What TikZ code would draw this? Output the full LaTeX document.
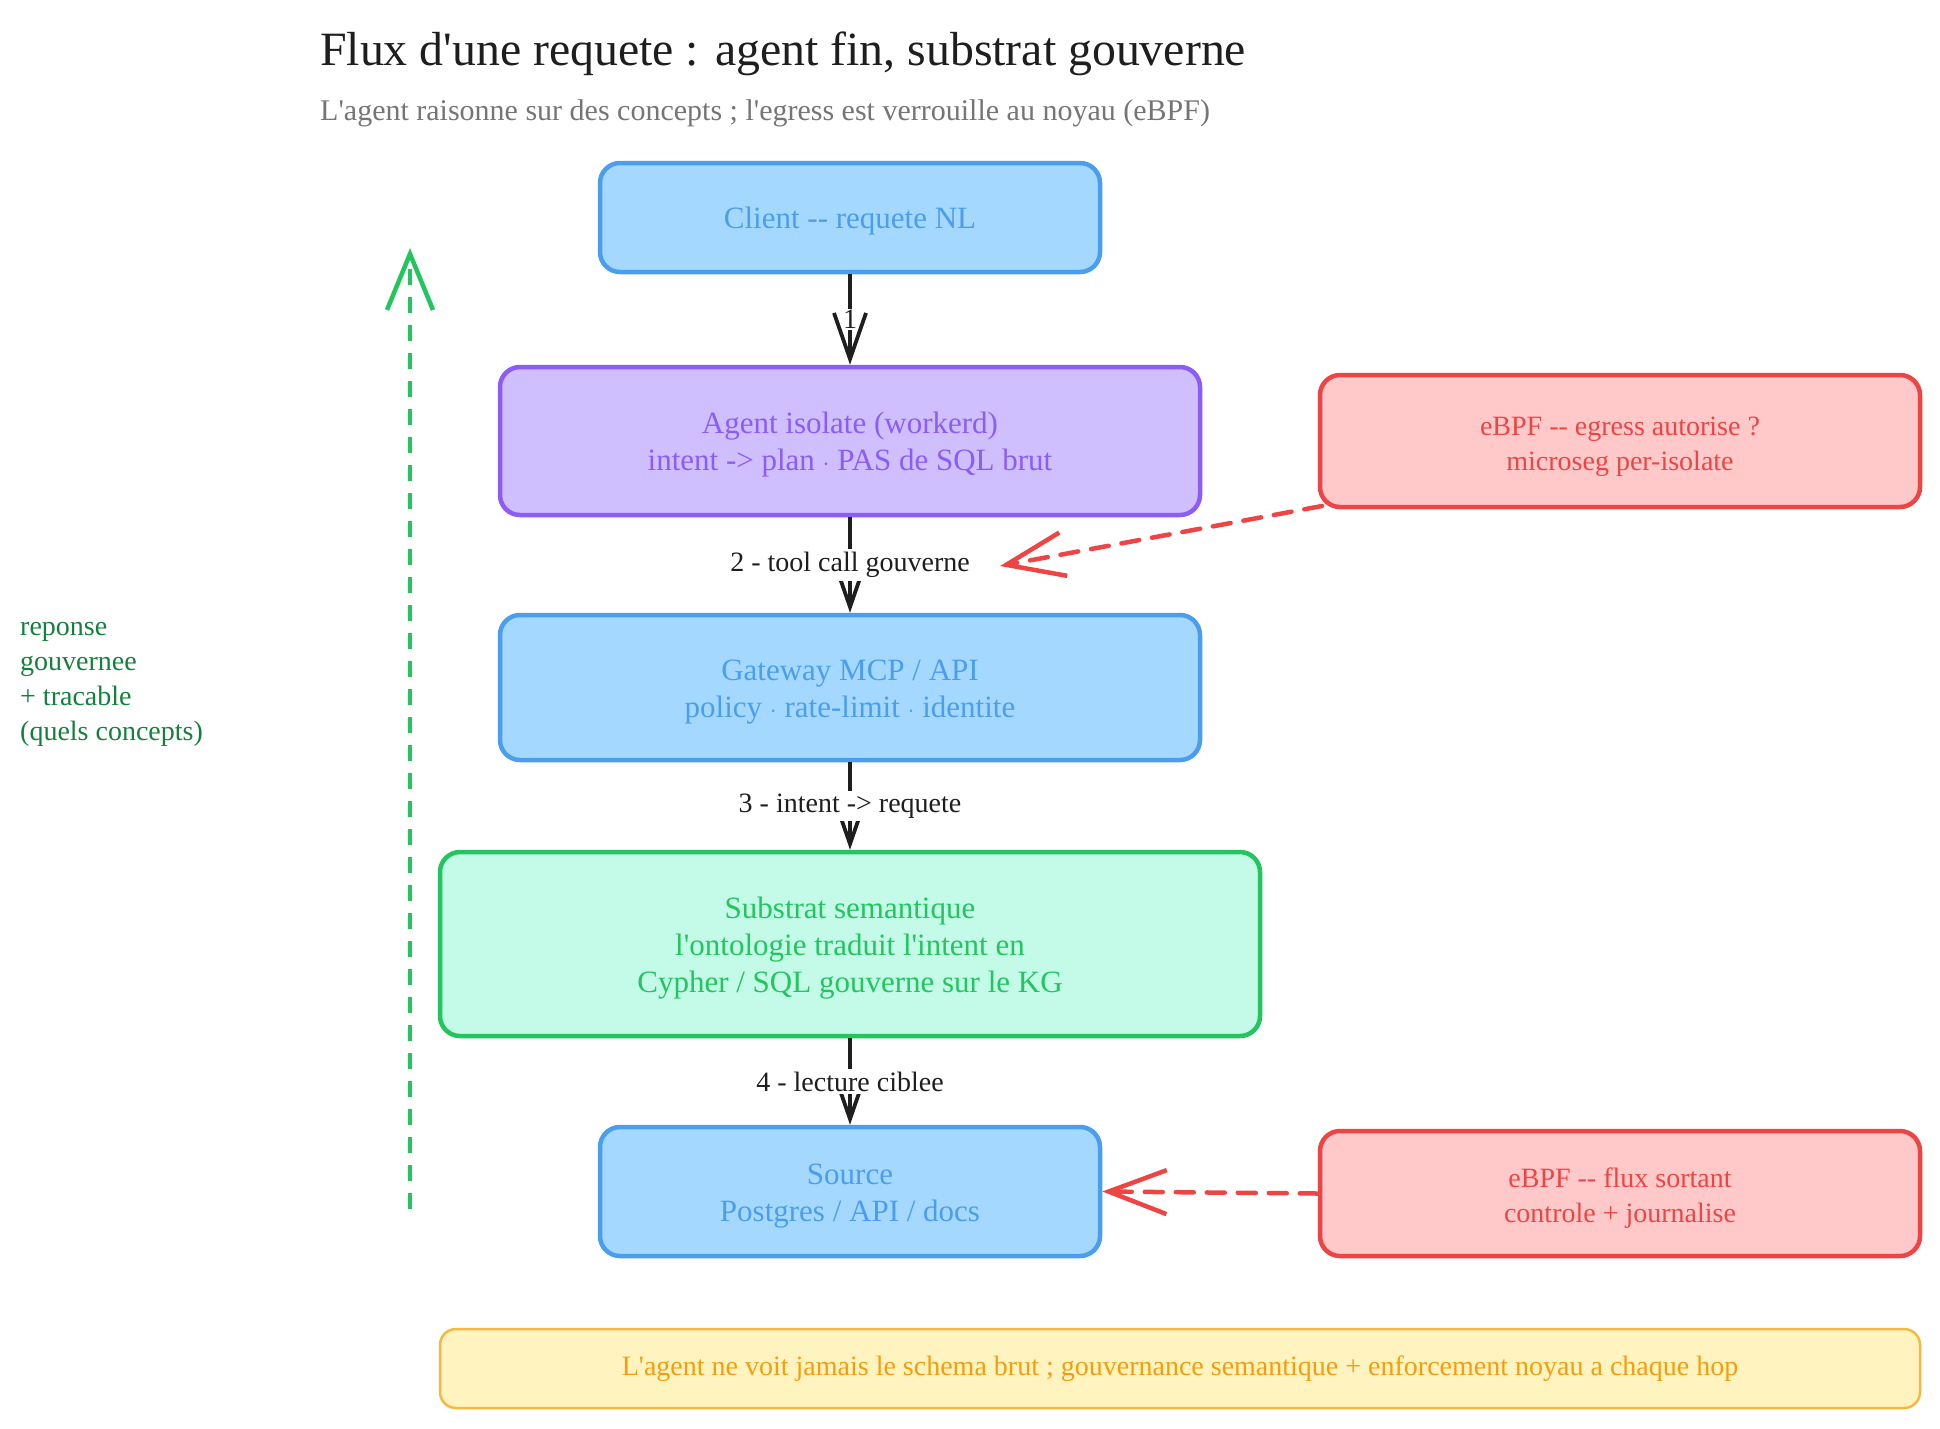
\documentclass[tikz,border=0pt]{standalone}
\usepackage{fontspec}
\setmainfont{Liberation Serif}[Ligatures=TeXOff]
\usetikzlibrary{arrows.meta}
\definecolor{ink}{HTML}{1E1E1E}
\definecolor{subgray}{HTML}{757575}
\definecolor{bstroke}{HTML}{4A9EED}
\definecolor{bfill}{HTML}{A5D8FF}
\definecolor{pstroke}{HTML}{8B5CF6}
\definecolor{pfill}{HTML}{D0BFFF}
\definecolor{gstroke}{HTML}{22C55E}
\definecolor{gfill}{HTML}{C3FAE8}
\definecolor{rstroke}{HTML}{EF4444}
\definecolor{rfill}{HTML}{FFC9C9}
\definecolor{ystroke}{HTML}{F5B942}
\definecolor{yfill}{HTML}{FFF3BF}
\definecolor{ytext}{HTML}{F59E0B}
\definecolor{gdark}{HTML}{15803D}
\newcommand{\boxstrut}{\rule{0pt}{29.5pt}}
\tikzset{
  box/.style={rectangle, rounded corners=20pt, line width=4.5pt, align=center,
    font=\fontsize{31}{37}\selectfont, inner sep=0pt},
  bluebox/.style={box, draw=bstroke, fill=bfill, text=bstroke},
  purplebox/.style={box, draw=pstroke, fill=pfill, text=pstroke},
  greenbox/.style={box, draw=gstroke, fill=gfill, text=gstroke},
  redbox/.style={box, draw=rstroke, fill=rfill, text=rstroke, font=\fontsize{28}{35}\selectfont},
  notebox/.style={rectangle, rounded corners=16pt, line width=2.5pt, draw=ystroke, fill=yfill, text=ytext,
    font=\fontsize{28}{34}\selectfont, inner sep=0pt},
  flowarrow/.style={draw=ink, line width=3.8pt, -{Straight Barb[length=46pt, width=32pt, line width=3.8pt]}},
  steplabel/.style={fill=white, text=ink, font=\fontsize{28}{34}\selectfont, inner sep=3pt},
  redarrow/.style={draw=rstroke, line width=4.5pt, dash pattern=on 18pt off 13pt, line cap=round,
    -{Straight Barb[length=58pt, width=44pt, line width=4.5pt]}},
  greenarrow/.style={draw=gstroke, line width=4.5pt, dash pattern=on 16pt off 12pt,
    -{Straight Barb[length=56pt, width=46pt, line width=4.5pt]}},
}
\begin{document}
\begin{tikzpicture}[x=1pt, y=-1pt]
\useasboundingbox (0,0) rectangle (1940,1428);

\node[anchor=base west, text=ink, font=\fontsize{47.8}{56}\selectfont, inner sep=0pt] (title) at (320,65) {Flux d'une requete : agent fin, substrat gouverne};
\node[anchor=base west, text=subgray, font=\fontsize{30}{36}\selectfont, inner sep=0pt] (subtitle) at (320,120) {L'agent raisonne sur des concepts ; l'egress est verrouille au noyau (eBPF)};

\node[bluebox, minimum width=500pt, minimum height=109pt] (client) at (850,217.5) {\boxstrut Client -- requete NL};
\node[purplebox, minimum width=700pt, minimum height=148pt] (agent) at (850,441) {\boxstrut Agent isolate (workerd)\\intent -> plan $\cdot$ PAS de SQL brut};
\node[redbox, minimum width=600pt, minimum height=132pt] (ebpfa) at (1620,441) {\boxstrut eBPF -- egress autorise ?\\microseg per-isolate};
\node[bluebox, minimum width=700pt, minimum height=145pt] (gateway) at (850,687.5) {\boxstrut Gateway MCP / API\\policy $\cdot$ rate-limit $\cdot$ identite};
\node[greenbox, minimum width=820pt, minimum height=184pt] (substrat) at (850,944) {\boxstrut Substrat semantique\\l'ontologie traduit l'intent en\\Cypher / SQL gouverne sur le KG};
\node[bluebox, minimum width=500pt, minimum height=129pt] (source) at (850,1191.5) {\boxstrut Source\\Postgres / API / docs};
\node[redbox, minimum width=600pt, minimum height=125pt] (ebpfb) at (1620,1193.5) {\boxstrut eBPF -- flux sortant\\controle + journalise};
\node[notebox, minimum width=1480pt, minimum height=79pt] (note) at (1180,1368.5) {L'agent ne voit jamais le schema brut ; gouvernance semantique + enforcement noyau a chaque hop};

\node[anchor=base west, text=gdark, align=left, font=\fontsize{28}{35}\selectfont, inner sep=0pt] (reponse) at (20,740) {reponse\\gouvernee\\+ tracable\\(quels concepts)};

\draw[flowarrow] (client.south) -- node[steplabel, inner sep=1pt] (l1) {1} (agent.north);
\draw[flowarrow] (agent.south) -- node[steplabel] (l2) {2 - tool call gouverne} (gateway.north);
\draw[flowarrow] (gateway.south) -- node[steplabel] (l3) {3 - intent -> requete} (substrat.north);
\draw[flowarrow] (substrat.south) -- node[steplabel] (l4) {4 - lecture ciblee} (source.north);

\coordinate (egtip) at (1000,566);
\coordinate (egstart) at (1322,506);
\draw[redarrow] (egstart) -- (egtip);
\draw[redarrow] (ebpfb.west) -- (source.east);

\coordinate (retbot) at (410,1209);
\coordinate (rettop) at (410,248);
\draw[greenarrow] (retbot) -- (rettop);
\end{tikzpicture}
\end{document}
